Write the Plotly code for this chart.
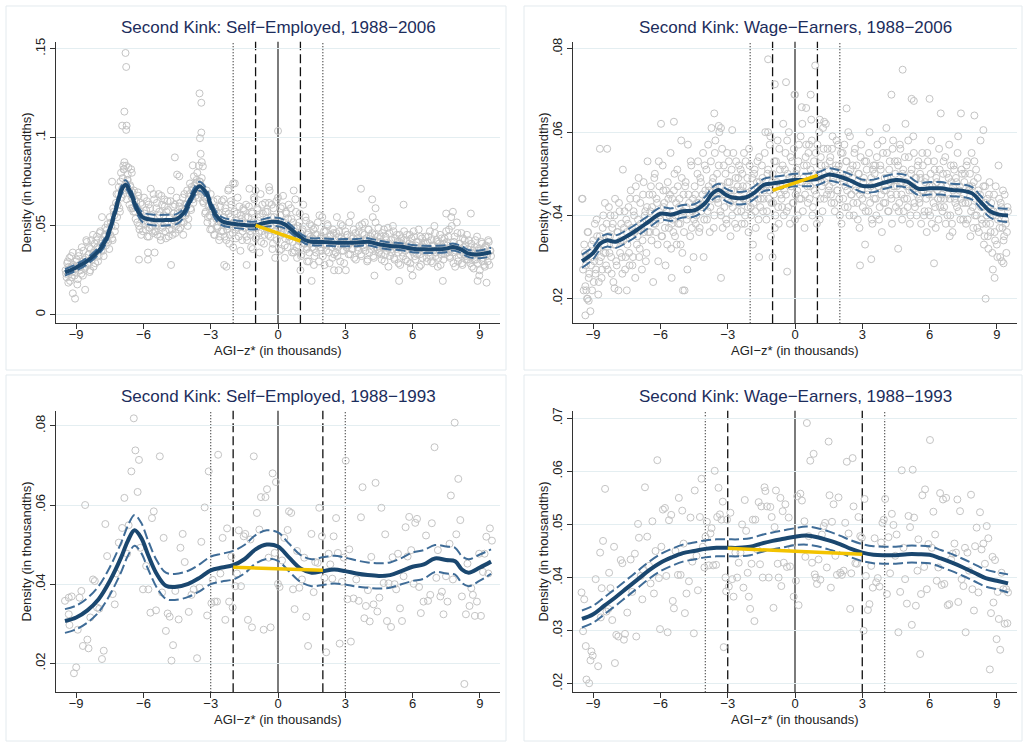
import numpy as np
import plotly.graph_objects as go

# ---------------- DATA (density values in thousandths x 1000) ----------------
x_ticks = [-9, -6, -3, 0, 3, 6, 9]
x_tick_labels = ["\u22129", "\u22126", "\u22123", "0", "3", "6", "9"]

titles = ["Second Kink: Self\u2212Employed, 1988\u22122006",
          "Second Kink: Wage\u2212Earners, 1988\u22122006",
          "Second Kink: Self\u2212Employed, 1988\u22121993",
          "Second Kink: Wage\u2212Earners, 1988\u22121993"]

# bin centres for the two interleaved sets of $50 bins in the 1988-2006 panels
bins_a = np.round(-9.475 + 0.05 * np.arange(380), 3)
bins_b = np.round(-9.45 + 0.05 * np.arange(380), 3)

p1_bins_a = [
    25,21,30,27,19,33,24,28,22,26,31,20,35,27,23,30,36,26,32,41,
    28,38,25,42,33,27,40,35,44,30,38,47,36,42,33,45,39,48,41,37,
    45,50,42,58,47,63,55,68,60,75,66,77,82,70,84,76,83,62,72,66,
    60,70,58,64,52,67,48,63,55,47,66,51,59,44,62,49,71,56,46,65,
    50,60,45,68,56,42,62,50,65,47,58,64,44,55,70,48,61,53,46,66,
    57,48,63,52,60,45,68,56,62,50,65,74,59,70,63,73,67,76,71,84,
    75,68,72,63,66,58,70,55,62,48,60,52,64,45,58,50,55,42,61,47,
    53,65,44,58,48,70,40,55,62,46,52,74,43,57,49,61,36,54,47,59,
    49,62,42,55,71,45,58,37,66,50,44,60,53,35,68,47,57,40,63,52,
    58,45,70,50,62,40,55,32,64,48,53,36,60,46,67,52,43,57,38,62,
    48,60,35,52,44,65,38,50,42,57,33,47,62,40,55,37,45,30,51,42,
    38,48,33,45,40,52,30,43,36,55,42,28,47,39,50,35,44,41,32,46,
    42,35,55,38,47,30,43,50,36,40,25,45,39,52,34,44,37,48,41,31,
    43,36,50,40,33,46,38,52,42,30,48,35,44,39,55,32,45,41,37,49,
    36,44,31,40,48,34,42,38,27,46,39,35,50,32,43,37,41,29,45,38,
    40,33,47,36,42,30,38,45,26,39,35,44,31,41,37,48,34,28,43,36,
    38,44,32,41,35,47,30,39,36,50,33,42,27,40,45,34,38,31,43,37,
    41,35,48,32,55,38,29,44,36,52,30,40,34,46,28,38,42,33,45,31,
    35,29,40,33,26,38,31,44,36,22,34,41,30,37,27,39,33,42,28,36,
]
p1_bins_b = [
    23,29,18,32,26,21,35,27,24,30,17,33,28,25,38,22,31,27,42,29,
    34,24,37,31,45,35,29,42,38,33,46,40,55,36,44,49,42,51,46,55,
    52,43,60,56,50,68,62,72,58,80,71,68,86,74,65,79,70,73,60,69,
    58,65,54,61,69,50,58,45,62,53,57,48,64,52,44,60,55,50,68,47,
    47,63,52,58,44,67,49,56,61,43,52,59,48,64,51,45,57,62,50,55,
    53,61,49,58,66,52,62,57,70,54,68,60,72,65,78,69,74,80,66,71,
    70,77,64,69,57,65,52,61,56,68,48,58,45,60,54,49,57,44,52,64,
    47,55,60,42,50,57,45,64,51,38,58,48,53,66,44,51,56,42,60,49,
    55,44,51,61,47,38,57,52,65,43,49,59,46,55,41,62,50,45,58,48,
    50,63,44,55,37,60,47,52,42,66,49,56,45,61,50,39,58,46,54,44,
    45,54,41,49,36,58,44,39,52,46,34,48,43,40,53,38,46,35,44,50,
    43,37,49,35,45,41,56,38,44,33,47,40,36,51,42,29,45,38,48,34,
    39,46,33,44,40,51,36,42,29,47,38,45,34,41,56,37,43,32,46,40,
    38,47,42,34,51,39,45,36,43,31,48,40,37,46,33,42,52,38,44,35,
    41,34,46,38,30,44,36,49,40,33,42,37,47,31,39,45,35,41,28,43,
    35,42,38,31,45,37,40,29,43,36,47,33,39,34,41,27,44,38,32,40,
    36,40,30,44,37,33,42,29,39,46,35,41,32,38,28,43,36,40,34,47,
    39,44,33,37,50,35,41,27,38,46,32,40,36,29,43,34,39,31,37,42,
    33,38,27,36,31,42,34,29,37,25,35,40,32,28,38,34,30,41,36,33,
]
p1_extra_x = [-6.8,-6.77,-6.85,-6.95,-6.75,-6.77,-6.9,-6.88,-6.55,-6.52,-7.4,-6.7,
              -3.5,-3.42,-3.48,-3.42,-3.45,-3.4,-3.35,-3.8,-4.4,-4.6,-4.5,-4.77,-3.5,
              0.0,-0.4,0.7,-1.0,-2.0,-2.2,-2.7,3.7,4.2,4.35,5.6,7.5,7.8,8.6,-9.05,-9.15,-8.6,
              1.5,5.4,7.35,8.9,9.3,4.3,6.0,-5.8,-6.2,-5.5,-5.8,1.0,2.5,2.7,0.15,0.3,0.5,0.7,
              0.85,1.3,1.6,-1.4,-2.3,-2.4]
p1_extra_y = [147.6,139.7,114.5,106.6,106.6,104.2,84,82,82,80,75,76,
              124.8,119.5,99.5,102.7,90.7,86,83.6,84.2,78,88.7,79,28,75,
              103.6,72,70,70,74,71,65,71,65,60,62,57,58,57,9,12,14,
              19,19,19,19,18,22,22,31,31,35,35,25,25,25,37,32,42,35,
              32,30,28,28,27,28]

p2_bins_a = [
    44,22,31,28,20,36,26,17,33,30,24,38,27,35,21,29,34,25,37,31,
    43,28,56,35,31,40,26,38,33,44,29,36,22,41,34,30,51,37,27,39,
    33,42,28,46,37,30,40,25,44,35,49,32,38,27,45,36,41,31,53,39,
    36,47,42,24,49,38,44,33,53,40,62,35,46,43,28,41,48,37,45,32,
    44,36,50,40,33,47,42,38,58,31,45,22,48,39,57,43,35,52,41,30,
    47,38,43,53,36,49,41,45,30,52,44,39,57,46,42,61,48,37,55,44,
    50,43,60,41,47,37,52,45,39,55,44,48,35,51,42,46,38,53,41,49,
    43,51,38,47,55,40,44,49,36,52,42,46,33,50,41,45,53,39,48,44,
    52,41,46,60,39,50,44,57,35,48,43,53,40,47,58,38,51,45,42,62,
    46,55,41,50,60,38,47,53,43,69,45,51,40,57,48,44,62,49,37,54,
    52,43,57,47,63,40,50,46,55,38,49,60,44,52,41,56,48,62,45,51,
    47,54,43,59,49,41,52,46,57,44,50,38,55,48,42,53,46,60,40,51,
    45,52,40,56,47,43,50,37,54,46,42,49,33,53,45,41,60,47,39,51,
    44,52,40,57,47,42,51,36,55,46,43,61,49,41,53,45,38,58,47,50,
    45,53,41,57,48,39,51,44,62,47,42,54,38,50,46,59,43,49,40,52,
    44,50,38,55,46,41,49,36,53,45,40,58,47,43,51,37,48,44,56,42,
    47,41,53,44,38,50,45,57,40,48,36,52,44,49,42,59,46,39,51,43,
    45,50,38,53,43,47,35,55,42,48,40,51,37,46,44,58,39,42,33,47,
    38,44,32,48,36,41,27,45,34,40,30,52,37,43,29,46,35,39,31,42,
]
p2_bins_b = [
    27,33,23,30,36,25,31,28,22,34,29,26,39,32,24,35,30,27,40,33,
    31,38,27,42,35,30,37,24,40,33,28,36,43,31,38,26,34,41,30,36,
    38,31,44,35,28,41,36,47,33,39,30,43,37,34,48,40,29,42,36,45,
    41,34,45,38,50,36,43,29,47,39,35,52,42,37,46,33,44,40,55,38,
    39,46,35,43,51,38,44,33,49,41,36,47,42,27,45,40,53,37,44,39,
    45,40,50,43,37,48,42,55,39,46,51,41,47,36,53,44,49,40,58,46,
    44,52,47,40,56,45,42,50,38,48,53,43,46,40,55,44,49,37,47,52,
    46,41,50,44,38,53,47,42,56,45,40,49,43,51,37,48,44,54,42,47,
    49,44,55,47,41,51,46,59,43,50,45,37,53,48,42,56,47,44,52,40,
    51,45,58,42,49,54,47,43,56,39,50,46,53,44,59,48,41,52,45,57,
    47,55,44,51,58,42,53,48,45,57,50,39,54,47,61,44,52,49,56,46,
    53,45,56,48,43,51,58,46,52,40,55,49,44,57,47,53,42,50,59,45,
    49,43,55,46,52,39,50,45,57,44,48,53,41,51,46,55,43,49,38,52,
    50,44,54,47,39,52,45,58,43,49,46,55,41,51,48,44,56,47,53,42,
    47,52,43,56,45,50,41,54,48,44,58,46,40,51,47,55,42,49,45,53,
    43,49,46,52,40,48,44,55,41,47,50,38,45,53,42,49,46,39,51,44,
    45,50,42,54,47,40,49,44,52,38,46,51,43,48,55,41,47,44,50,39,
    48,43,52,39,46,50,41,47,37,53,44,40,49,36,45,42,38,47,35,43,
    40,35,45,38,43,31,41,36,47,33,39,44,30,42,37,34,45,38,36,41,
]
p2_extra_x = [-9.5,-9.35,-9.3,-9.25,-9.2,-8.7,-5.4,-3.6,-3.4,-3.3,-2.8,-1.2,-1.2,-0.9,-0.4,0.0,
              0.3,0.5,0.7,0.9,1.1,1.3,2.3,4.3,4.8,5.2,5.3,6.0,6.5,7.4,8.0,8.4,8.5,-8.05,-7.5,
              -5.0,-5.5,-3.3,-1.6,-1.0,-0.35,2.9,3.4,4.6,6.2,6.9,8.9,9.3]
p2_extra_y = [44,16,22,20,19.5,56,62.5,64.5,61.5,61,60.5,60,77.5,71.5,72,69,
              66,65.8,69,76,63,62.5,65.7,69,75,68,67.5,68,64.5,64.5,64,60.5,20,22.5,22,
              22,25,25,30,30,26.5,28,29.5,32,28.5,35,25,28.5]

p3_pts_x = [-9.5,-9.33,-9.2,-9.3,-9.33,-9.1,-9.0,-8.85,-8.77,-8.93,-8.7,-8.6,-8.5,-8.45,-8.37,-8.25,
            -8.17,-8.07,-7.97,-7.85,-7.77,-7.7,-7.62,-7.37,-7.28,-7.22,-7.1,-6.95,-6.85,-6.73,-6.66,
            -6.54,-6.43,-6.36,-6.26,-6.2,-6.14,-6.02,-5.88,-5.78,-5.69,-5.62,-5.54,-5.44,-5.27,-5.17,
            -5.1,-5.0,-4.92,-4.83,-4.75,-4.68,-4.58,-4.43,-4.35,-4.25,-4.16,-3.98,-3.86,-3.76,-3.61,
            -3.5,-3.42,-3.27,-3.16,-3.09,-2.97,-2.91,-2.82,-2.72,-2.67,-2.57,-2.47,-2.35,-2.27,-2.18,
            -2.08,-2.02,-1.9,-1.83,-1.75,-1.65,-1.53,-1.46,-1.34,-1.23,-1.16,-1.08,-0.94,-0.83,-0.76,
            -0.64,-0.56,-0.49,-0.42,-0.33,-0.24,-0.15,-0.09,0.0,0.07,0.18,0.28,0.43,0.49,0.59,0.67,
            0.74,0.85,0.95,1.07,1.17,1.26,1.34,1.49,1.59,1.66,1.77,1.84,1.96,2.07,2.15,2.26,2.33,
            2.42,2.48,2.59,2.67,2.75,2.85,2.93,3.02,3.1,3.18,3.25,3.37,3.49,3.6,3.7,3.77,3.85,3.92,
            4.01,4.09,4.16,4.26,4.35,4.43,4.52,4.61,4.71,4.78,4.86,4.93,5.04,5.11,5.2,5.27,5.35,
            5.44,5.53,5.6,5.69,5.78,5.85,5.94,6.05,6.12,6.2,6.29,6.37,6.49,6.6,6.69,6.79,6.86,6.98,
            7.06,7.13,7.24,7.31,7.38,7.49,7.56,7.65,7.71,7.8,7.88,7.95,8.04,8.13,8.2,8.31,8.38,8.45,
            8.54,8.62,8.69,8.78,8.87,8.97,9.05,9.14,9.21,9.29,9.38,9.45,9.54]
p3_pts_y = [35.8,36.6,36.9,29.7,32.4,17.5,19,36.6,38.3,28.5,24.4,60,26,23.8,31.6,41.2,
            40.8,34.1,33.8,21.1,23.2,55.2,47.1,37.5,34.9,42.7,50.5,54.2,61.8,47.7,54.9,
            68.5,81.9,73.8,63.3,71.4,49.2,38.7,44.6,38.7,32.8,56.7,58.4,33.4,72.3,37.9,
            51.7,28.2,32.6,31.8,20.7,24.6,38.3,31.1,49.2,52.7,45.6,33,37.3,38.7,21.3,
            39.1,50.7,59.4,32.1,68.5,35.2,41.1,35.6,35.6,72.7,42.7,51.7,31,54.1,35.6,
            47,34.1,39.5,42.7,53.6,39.5,52.1,52.7,31,51.3,29.1,72.3,58,53.8,62,
            28.5,62,64,46.7,29.1,68,47.9,65.8,40.1,39.3,46,51.7,53.7,58.4,58,38.7,
            33.7,48.4,39.1,41.2,46.7,31.8,24.4,52.7,38,45.6,45.4,59.3,52.1,41.6,22.8,47.7,45,
            41.4,52.1,56.7,47.9,25,40.6,46.7,71.2,36.2,48.8,25.5,36.4,41.2,35.8,56.9,64.5,31.4,34.5,
            38.5,30.6,46.9,34.9,65.6,33.1,36.6,59.3,40.3,52.6,30.7,40.2,29.2,46.8,40,38.7,47.7,
            33.9,30.7,42,54.4,47,57,48.6,40.1,55.5,56.5,39.3,32.7,35.6,52.3,35.8,37.3,55.4,74.6,
            41.6,48.6,36.9,38.1,32.4,42,35.6,50.2,62.4,41.2,80.8,52.6,66.6,56.2,36.9,14.8,32.4,45.2,
            34.5,39,37.3,32,35.6,47.7,32,43.1,47.7,52,42.7,54.1,51]

p4_pts_x = [-9.52,-9.4,-9.45,-9.33,-9.3,-9.18,-9.12,-9.08,-9.02,-8.89,-8.78,-8.69,-8.66,-8.62,-8.56,
            -8.47,-8.41,-8.32,-8.29,-8.23,-8.15,-8.07,-8.03,-7.97,-7.88,-7.77,-7.7,-7.63,-7.58,-7.48,
            -7.33,-7.26,-7.14,-7.08,-7.0,-6.96,-6.88,-6.81,-6.77,-6.69,-6.59,-6.51,-6.44,-6.36,-6.29,
            -6.22,-6.14,-6.07,-6.02,-5.96,-5.89,-5.8,-5.74,-5.68,-5.62,-5.52,-5.45,-5.4,-5.33,-5.22,
            -5.18,-5.1,-5.03,-4.97,-4.91,-4.84,-4.73,-4.66,-4.58,-4.51,-4.47,-4.39,-4.33,-4.24,-4.17,
            -4.11,-4.04,-3.99,-3.93,-3.84,-3.77,-3.72,-3.65,-3.58,-3.52,-3.47,-3.41,-3.35,-3.28,-3.22,
            -3.18,-3.1,-3.07,-3.03,-2.95,-2.88,-2.8,-2.74,-2.66,-2.58,-2.51,-2.43,-2.36,-2.3,-2.24,
            -2.18,-2.11,-2.06,-2.0,-1.94,-1.88,-1.81,-1.77,-1.69,-1.62,-1.56,-1.5,-1.44,-1.36,-1.32,
            -1.25,-1.17,-1.1,-1.04,-0.96,-0.91,-0.85,-0.77,-0.73,-0.65,-0.61,-0.55,-0.5,-0.43,-0.36,
            -0.28,-0.22,-0.13,-0.06,0.04,0.1,0.16,0.24,0.31,0.42,0.46,0.53,0.61,0.68,0.76,0.83,0.88,
            0.93,0.98,1.05,1.13,1.2,1.28,1.34,1.42,1.5,1.54,1.6,1.65,1.72,1.8,1.87,1.94,2.02,2.09,
            2.17,2.24,2.31,2.39,2.46,2.51,2.57,2.61,2.69,2.76,2.83,2.91,2.98,3.06,3.1,3.16,3.25,3.32,
            3.4,3.47,3.55,3.62,3.69,3.77,3.84,3.9,3.96,4.02,4.1,4.17,4.24,4.32,4.39,4.47,4.53,4.61,
            4.69,4.76,4.84,4.91,4.99,5.06,5.13,5.21,5.25,5.31,5.39,5.46,5.5,5.58,5.62,5.68,5.76,5.8,
            5.88,5.95,6.02,6.1,6.17,6.25,6.32,6.39,6.47,6.54,6.6,6.66,6.74,6.81,6.88,6.96,7.03,7.11,
            7.18,7.24,7.28,7.36,7.43,7.51,7.58,7.61,7.69,7.76,7.85,7.91,7.98,8.03,8.1,8.18,8.25,8.32,
            8.4,8.47,8.55,8.62,8.69,8.74,8.81,8.85,8.92,8.99,9.04,9.09,9.15,9.21,9.29,9.35,9.42,9.5,9.47]
p4_pts_y = [37.2,35.9,29.9,27.1,20.8,20.1,24.4,26.1,25.3,39.7,23.3,44.7,32.5,38,46.9,
            56.7,33.6,34.1,40.9,38,32,45.8,23.9,29.2,28.9,43.3,42.7,28.3,29.4,33.4,
            43.4,37.3,44.5,28.9,50.1,47.5,40.3,35.9,41.4,57,47.7,42.2,38.9,50.6,37,
            45,62.1,39.9,30.3,45.8,52.8,53.1,40.3,29.7,50.8,51.8,35.6,34.2,45,40.5,
            55,40.5,52.6,46.4,33.3,37,39.3,51.3,43,29.5,56.4,44.1,37.6,51.4,58.6,
            45.8,41.9,47.7,50.5,42.3,48.3,49.3,42.3,60.1,42.4,51.4,56.9,51.9,50.9,54.3,
            26.9,40,37.4,50.9,38.3,52.2,39.7,36.4,44.7,40,42.8,44.7,50,38.1,54.6,
            48.8,40.9,36.4,34.1,42.6,50.9,31.8,50.9,45.3,54.2,42.5,53.4,40,57,56.3,
            53.4,40,53.3,51.4,34.3,49.5,56.4,42.6,40,55,38.4,52.5,42.8,53.8,42,
            51.3,42.1,45.6,36.4,39.4,55.3,34.8,55.8,54.5,50.6,43.9,69.1,47.8,62,42.8,63.3,40.6,
            40,38.8,43.4,39.6,48.1,49.7,50.3,41.9,65.6,55.5,38.1,50.5,53.8,44.1,40.5,55.1,40.9,40.5,
            41.3,50.3,61.8,48.3,34.1,40.8,62.5,53.4,42.7,42.6,51.4,47.8,47.5,30,54.8,40.3,33.9,35,
            42.2,38.1,47.4,39.1,39.9,38.3,46.6,50.3,50.9,54.8,36.9,47.6,40.8,52,49.9,44.1,48.1,29.7,
            37.3,60.2,45.6,39.7,35.1,51.6,49.5,31.1,60.3,51.3,34.7,41.3,47.2,25.6,36.9,55.5,42,56.6,
            37.8,46.3,65.9,45.6,52.4,48.1,39.4,41.9,55.9,38.6,54.7,38.8,55,34.8,35,43.4,44.5,46.4,
            44.7,54.7,35.4,52.5,39.7,38.4,45.6,29.7,44.7,41.3,55.6,37.8,33.8,45.9,49.4,37.2,52.3,45.3,
            46.4,42.6,49.7,47.4,22.7,33.3,43.9,35.3,43.3,28.4,37.3,32.2,26.4,40.9,37.8,31.3,37.8,37.2,31.4]

# fitted densities and confidence half-widths
p1_fit_x = [-9.5,-9,-8.5,-8,-7.7,-7.5,-7.2,-7,-6.8,-6.6,-6.4,-6.2,-6,-5.5,-5,-4.5,-4.2,-4,-3.8,-3.5,
            -3.2,-3,-2.8,-2.5,-2,-1.5,-1,-0.7,-0.3,0,0.3,0.6,0.9,1.2,1.5,2,2.5,3,3.5,4,4.5,5,5.5,6,
            6.5,7,7.5,7.8,8.2,8.5,9,9.5]
p1_fit_y = [23.8,26.6,30.3,35.9,41.5,48,61,69.6,73.3,69.6,63,57.4,54.6,53.3,53.3,54,57.4,62,67.7,72.4,
            68.6,62,56.5,52.7,51.2,50.5,50.3,51.4,52.4,52.2,50.9,48,44.7,42.1,41.1,41,40.6,40.6,40.6,41.1,
            39.7,38.7,38.3,37.2,36.8,36.8,37.2,38.1,36.5,34.4,34,35.3]
p1_fit_hw = [1.8,1.8,1.8,2.0,2.2,2.4,2.5,2.5,2.5,2.5,2.5,2.5,2.8,3.0,3.0,2.8,2.6,2.5,2.5,2.5,
             2.5,2.5,2.5,2.3,2.2,2.2,2.2,2.3,2.4,2.4,2.3,2.2,2.0,2.0,2.0,2.0,2.0,2.0,2.0,2.0,
             2.0,2.0,2.0,2.0,2.0,2.0,2.0,2.0,2.0,2.0,2.2,2.4]

p2_fit_x = [-9.5,-9,-8.7,-8.4,-8,-7.5,-7,-6.5,-6,-5.5,-5,-4.5,-4,-3.7,-3.4,-3.1,-2.8,-2.2,-1.8,-1.4,
            -1,-0.5,0,0.5,1,1.5,2,2.5,3,3.5,4,4.5,5,5.5,6,6.5,7,7.5,7.9,8.3,8.7,9.1,9.5]
p2_fit_y = [29,31,33.2,34,33.7,35,36.7,38.6,40.4,40.2,41,41.2,43,45.2,46.1,45,44.3,44.3,45.5,47.3,
            47.7,48.1,48.5,48.5,48.8,49.8,49.3,48.3,47.1,47.1,47.9,48.5,48.1,46.4,46.5,46.5,46.1,45.9,
            45.3,43.1,41,40.2,40]
p2_fit_hw = [1.6,1.5,1.5,1.5,1.5,1.5,1.5,1.5,1.5,1.5,1.5,1.5,1.5,1.5,1.5,1.5,1.5,1.5,1.5,1.5,
             1.5,1.5,1.5,1.5,1.5,1.5,1.5,1.5,1.5,1.5,1.5,1.5,1.5,1.5,1.5,1.5,1.5,1.5,1.5,1.5,
             1.5,1.5,1.6]

p3_fit_x = [-9.5,-9,-8.5,-8,-7.5,-7,-6.7,-6.4,-6.1,-5.8,-5.4,-5,-4.6,-4,-3.5,-3,-2.5,-2,-1.5,-1,
            -0.5,0,0.5,1,1.5,2,2.5,3,3.5,4,4.5,5,5.5,6,6.5,7,7.5,7.9,8.2,8.5,9,9.5]
p3_fit_y = [30.7,31.6,33.4,36.2,40.8,46.7,50.9,53.6,51.7,47.5,42.5,39.6,39.3,40.1,41.6,43.5,44.2,44.8,
            46.3,48.8,50,49.5,46.7,44,42.9,43.3,43.7,43.3,42.7,42.3,42.1,42.3,43.3,44.4,45,46.5,46.1,
            45.8,43.7,42.9,44.2,45.7]
p3_fit_hw = [3.0,3.0,3.1,3.3,3.5,3.7,3.8,3.9,3.8,3.6,3.4,3.3,3.3,3.3,3.4,3.5,3.5,3.6,3.6,3.6,
             3.6,3.6,3.5,3.4,3.4,3.5,3.5,3.4,3.3,3.2,3.2,3.2,3.3,3.6,3.6,3.4,3.4,3.4,3.4,3.4,
             3.3,3.1]

p4_fit_x = [-9.5,-9,-8.5,-8,-7.5,-7,-6.5,-6,-5.5,-5,-4.5,-4,-3.5,-3,-2.5,-2,-1.5,-1,-0.5,0,
            0.5,1,1.5,2,2.5,3,3.5,4,4.5,5,5.5,6,6.5,7,7.5,8,8.5,9,9.5]
p4_fit_y = [32.2,33.1,34.7,36.3,38,39.7,41.4,42.8,43.8,44.6,45,45.4,45.6,45.6,45.6,45.8,46.4,46.9,
            47.3,47.7,47.9,47.6,47,46.3,45.4,44.7,44.3,44.2,44.2,44.4,44.4,44.3,43.6,42.8,41.9,40.9,
            39.9,39.4,38.9]
p4_fit_hw = [1.6,1.6,1.6,1.6,1.6,1.6,1.6,1.6,1.6,1.6,1.6,1.6,1.6,1.6,1.6,1.6,1.6,1.6,1.6,1.6,
             1.7,1.7,1.7,1.6,1.6,1.6,1.6,1.6,1.6,1.6,1.6,1.6,1.6,1.6,1.6,1.6,1.6,1.6,1.7]

# counterfactual (yellow) segments
cf_x = [[-1, 1], [-1, 1], [-2, 2], [-3, 3]]
cf_y = [[50.3, 41.5], [46.0, 49.6], [44.3, 43.5], [45.5, 44.4]]

# excluded window half-widths (dashed) and outer bounds (dotted)
window_inner = [1, 1, 2, 3]
window_outer = [2, 2, 3, 4]

y_ranges = [[-0.0049, 0.1539], [0.0141, 0.0817], [0.0127, 0.0838], [0.0184, 0.0714]]
y_ticks = [[0, 0.05, 0.1, 0.15], [0.02, 0.04, 0.06, 0.08], [0.02, 0.04, 0.06, 0.08],
           [0.02, 0.03, 0.04, 0.05, 0.06, 0.07]]
y_tick_labels = [["0", ".05", ".1", ".15"], [".02", ".04", ".06", ".08"], [".02", ".04", ".06", ".08"],
                 [".02", ".03", ".04", ".05", ".06", ".07"]]

# ---------------- FIGURE ----------------
W, H = 1024, 743
areas = [(56, 500, 38, 321), (573, 1017, 38, 321), (56, 500, 409, 692), (573, 1017, 409, 692)]
frames = [(6, 506, 2, 368), (524, 1022, 2, 368), (6, 506, 373, 741), (524, 1022, 373, 741)]

scatter_x = [
    list(bins_a) + list(bins_b) + p1_extra_x,
    list(bins_a) + list(bins_b) + p2_extra_x,
    p3_pts_x,
    p4_pts_x,
]
scatter_y = [
    [v / 1000 for v in p1_bins_a + p1_bins_b + p1_extra_y],
    [v / 1000 for v in p2_bins_a + p2_bins_b + p2_extra_y],
    [v / 1000 for v in p3_pts_y],
    [v / 1000 for v in p4_pts_y],
]
fits = [(p1_fit_x, p1_fit_y, p1_fit_hw), (p2_fit_x, p2_fit_y, p2_fit_hw),
        (p3_fit_x, p3_fit_y, p3_fit_hw), (p4_fit_x, p4_fit_y, p4_fit_hw)]

NAVY = "#1a476f"
CI = "#3f6c97"
GREY = "#c4c4c4"
GOLD = "#f3c300"
FONT = "Liberation Sans, Arial, Helvetica, sans-serif"

fig = go.Figure()
shapes = []
annotations = []
layout = {}

for i in range(4):
    n = "" if i == 0 else str(i + 1)
    xa, ya = "x" + n, "y" + n
    fx, fy, fhw = fits[i]
    fy = np.array(fy) / 1000
    fhw = np.array(fhw) / 1000

    fig.add_trace(go.Scatter(x=scatter_x[i], y=scatter_y[i], mode="markers", xaxis=xa, yaxis=ya,
                             marker=dict(symbol="circle-open", size=7, color=GREY, line=dict(width=1)),
                             showlegend=False, hoverinfo="skip"))
    for band in (fy + fhw, fy - fhw):
        fig.add_trace(go.Scatter(x=fx, y=band, mode="lines", xaxis=xa, yaxis=ya,
                                 line=dict(color=CI, width=2, dash="10px,4px", shape="spline", smoothing=1.0),
                                 showlegend=False, hoverinfo="skip"))
    fig.add_trace(go.Scatter(x=fx, y=fy, mode="lines", xaxis=xa, yaxis=ya,
                             line=dict(color=NAVY, width=4, shape="spline", smoothing=1.0),
                             showlegend=False, hoverinfo="skip"))
    fig.add_trace(go.Scatter(x=cf_x[i], y=[v / 1000 for v in cf_y[i]], mode="lines", xaxis=xa, yaxis=ya,
                             line=dict(color=GOLD, width=3.5), showlegend=False, hoverinfo="skip"))

    l, r, t, b = areas[i]
    layout["xaxis" + n] = dict(domain=[l / W, r / W], anchor=ya, range=[-9.9, 9.9],
                               tickvals=x_ticks, ticktext=x_tick_labels, ticks="outside", ticklen=5,
                               tickcolor="#333", showline=True, linecolor="#333", linewidth=1.3,
                               ticklabelstandoff=-6,
                               showgrid=False, zeroline=False, tickfont=dict(size=13, color="#222", family=FONT))
    layout["yaxis" + n] = dict(domain=[1 - b / H, 1 - t / H], anchor=xa, range=y_ranges[i],
                               tickvals=y_ticks[i], ticktext=y_tick_labels[i], tickangle=-90,
                               ticks="outside", ticklen=5, tickcolor="#333", showline=True,
                               linecolor="#333", linewidth=1.3, showgrid=True, gridcolor="#e4eef1",
                               gridwidth=1, zeroline=False, tickfont=dict(size=13, color="#222", family=FONT))

    shapes.append(dict(type="line", xref=xa, yref=ya + " domain", x0=0, x1=0, y0=0, y1=1,
                       line=dict(color="#444", width=1.4), layer="below"))
    for s in (-1, 1):
        shapes.append(dict(type="line", xref=xa, yref=ya + " domain", x0=s * window_inner[i],
                           x1=s * window_inner[i], y0=0, y1=1,
                           line=dict(color="#111", width=1.3, dash="9px,4px"), layer="below"))
        shapes.append(dict(type="line", xref=xa, yref=ya + " domain", x0=s * window_outer[i],
                           x1=s * window_outer[i], y0=0, y1=1,
                           line=dict(color="#111", width=1.1, dash="1px,2px"), layer="below"))

    fl, fr, ft, fb = frames[i]
    shapes.append(dict(type="rect", xref="paper", yref="paper", x0=fl / W, x1=fr / W,
                       y0=1 - fb / H, y1=1 - ft / H, line=dict(color="#e3eaee", width=1),
                       fillcolor="rgba(0,0,0,0)", layer="below"))

    cx = (l + r) / 2
    annotations.append(dict(text=titles[i], xref="paper", yref="paper", x=cx / W, y=1 - (t - 14) / H,
                            showarrow=False, xanchor="center", yanchor="middle",
                            font=dict(size=17, color="#1c2d5c", family=FONT)))
    annotations.append(dict(text="AGI\u2212z* (in thousands)", xref="paper", yref="paper", x=cx / W,
                            y=1 - (b + 27) / H, showarrow=False, xanchor="center", yanchor="middle",
                            font=dict(size=13, color="#222", family=FONT)))
    annotations.append(dict(text="Density (in thousandths)", xref="paper", yref="paper",
                            x=(l - 29) / W, y=1 - ((t + b) / 2) / H, showarrow=False, textangle=-90,
                            xanchor="center", yanchor="middle",
                            font=dict(size=13, color="#222", family=FONT)))

fig.update_layout(width=W, height=H, margin=dict(l=0, r=0, t=0, b=0),
                  paper_bgcolor="white", plot_bgcolor="white", showlegend=False,
                  shapes=shapes, annotations=annotations, **layout)

fig.write_html("out.html", include_plotlyjs=True, config={"displayModeBar": False},
               post_script="document.body.style.margin='0px'; document.body.style.overflow='hidden';")
